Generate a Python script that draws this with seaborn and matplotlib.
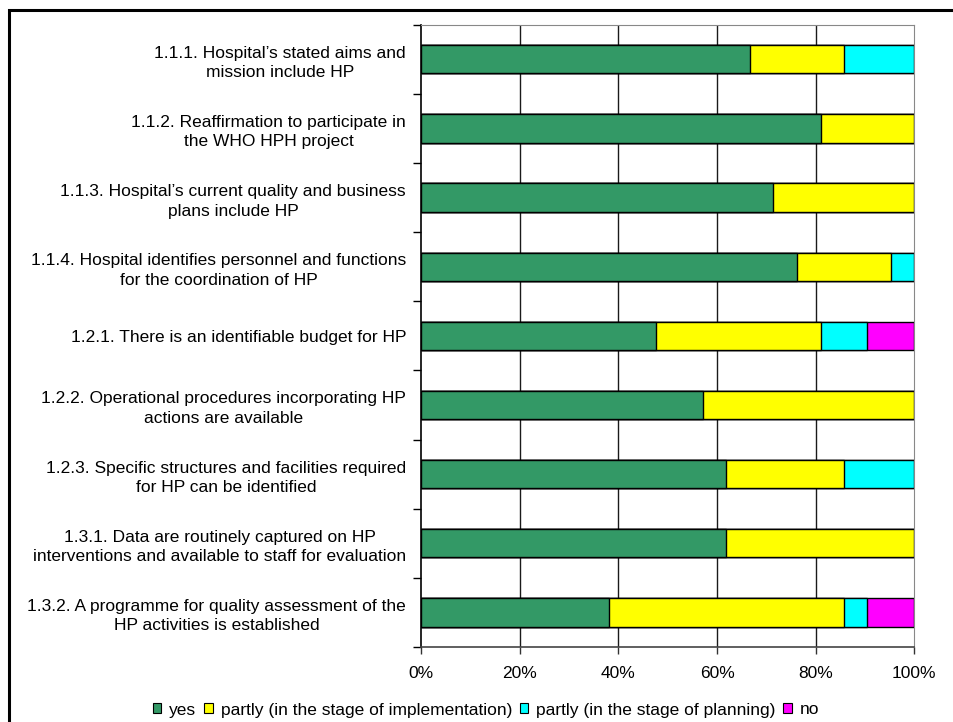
import matplotlib
matplotlib.use("Agg")
import matplotlib.pyplot as plt
from matplotlib.patches import Patch, Rectangle
import numpy as np
import pandas as pd
import seaborn as sns

# Self-assessment items (standard 1: management policy)
items = [
    "1.1.1. Hospital\u2019s stated aims and\nmission include HP",
    "1.1.2. Reaffirmation to participate in\nthe WHO HPH project",
    "1.1.3. Hospital\u2019s current quality and business\nplans include HP",
    "1.1.4. Hospital identifies personnel and functions\nfor the coordination of HP",
    "1.2.1. There is an identifiable budget for HP",
    "1.2.2. Operational procedures incorporating HP\nactions are available",
    "1.2.3. Specific structures and facilities required\nfor HP can be identified",
    "1.3.1. Data are routinely captured on HP\ninterventions and available to staff for evaluation",
    "1.3.2. A programme for quality assessment of the\nHP activities is established",
]

# Share of hospitals per answer (%)
yes = [66.7, 81.0, 71.4, 76.2, 47.6, 57.1, 61.9, 61.9, 38.1]
partly_impl = [19.0, 19.0, 28.6, 19.0, 33.4, 42.9, 23.8, 38.1, 47.6]
partly_plan = [14.3, 0.0, 0.0, 4.8, 9.5, 0.0, 14.3, 0.0, 4.8]
no = [0.0, 0.0, 0.0, 0.0, 9.5, 0.0, 0.0, 0.0, 9.5]

series_names = ["yes", "partly (in the stage of implementation)",
                "partly (in the stage of planning)", "no"]
series_colors = ["#339966", "#FFFF00", "#00FFFF", "#FF00FF"]
x_ticks = [0, 20, 40, 60, 80, 100]

sns.set_style("white")
plt.rcParams["font.family"] = ["Liberation Sans", "DejaVu Sans"]
plt.rcParams["font.size"] = 12.5
plt.rcParams["text.color"] = "black"
plt.rcParams["xtick.color"] = "black"
plt.rcParams["ytick.color"] = "black"
plt.rcParams["xtick.labelcolor"] = "black"
plt.rcParams["ytick.labelcolor"] = "black"

df = pd.DataFrame({"item": items, "yes": yes, "impl": partly_impl,
                   "plan": partly_plan, "no": no})
cols = ["yes", "impl", "plan", "no"]
cum = df[cols].cumsum(axis=1)

fig = plt.figure(figsize=(9.54, 7.22), dpi=100)
ax = fig.add_axes([421.3 / 954, 1 - 647 / 722, (914.3 - 421.3) / 954, (647 - 24.7) / 722])

# stacked bars: draw the running totals from the outermost segment inwards
for col, color in reversed(list(zip(cols, series_colors))):
    sns.barplot(x=cum[col], y=df["item"], orient="h", color=color,
                width=0.41, edgecolor="black", linewidth=1.0,
                errorbar=None, saturation=1, ax=ax, zorder=3)

ax.set_xlim(0, 100)
ax.set_ylim(8.5, -0.5)
ax.set_xlabel("")
ax.set_ylabel("")

# vertical gridlines (the 100% line is the plot-area border)
for xv in x_ticks[1:-1]:
    ax.axvline(xv, color="#1a1a1a", lw=1.0, zorder=1)

ax.set_xticks(x_ticks)
ax.set_xticklabels([f"{v}%" for v in x_ticks])
ax.tick_params(axis="x", direction="out", length=5, width=1, color="#333333",
               labelcolor="black", pad=9, labelsize=12.5, bottom=True)

ax.set_yticks(range(len(items)))
ax.set_yticklabels(items, ha="right", multialignment="center")
ax.set_yticks(np.arange(-0.5, len(items), 1.0), minor=True)
ax.tick_params(axis="y", which="major", length=0, pad=11, labelsize=12.5,
               labelcolor="black")
ax.tick_params(axis="y", which="minor", direction="out", length=6, width=1,
               color="black", left=True)
for lab in ax.get_yticklabels():
    lab.set_linespacing(1.38)

ax.spines["left"].set_color("black")
ax.spines["left"].set_linewidth(1.2)
ax.spines["bottom"].set_color("#444444")
ax.spines["bottom"].set_linewidth(1.2)
ax.spines["top"].set_color("#888888")
ax.spines["right"].set_color("#888888")
for s in ax.spines.values():
    s.set_zorder(4)

handles = [Patch(facecolor=c, edgecolor="black", linewidth=0.8, label=n)
           for n, c in zip(series_names, series_colors)]
fig.legend(handles=handles, loc="center", bbox_to_anchor=(486 / 954, 1 - 710 / 722),
           ncol=4, frameon=False, handlelength=0.5, handleheight=0.5,
           handletextpad=0.45, columnspacing=0.45, fontsize=12.5,
           labelcolor="black")

# chart-area frame
fig.patches.append(Rectangle((9 / 954, -0.05), 1.2, 1 - 10 / 722 + 0.05,
                             transform=fig.transFigure, fill=False,
                             edgecolor="black", linewidth=2.2))

fig.savefig("out.png", dpi=100)
